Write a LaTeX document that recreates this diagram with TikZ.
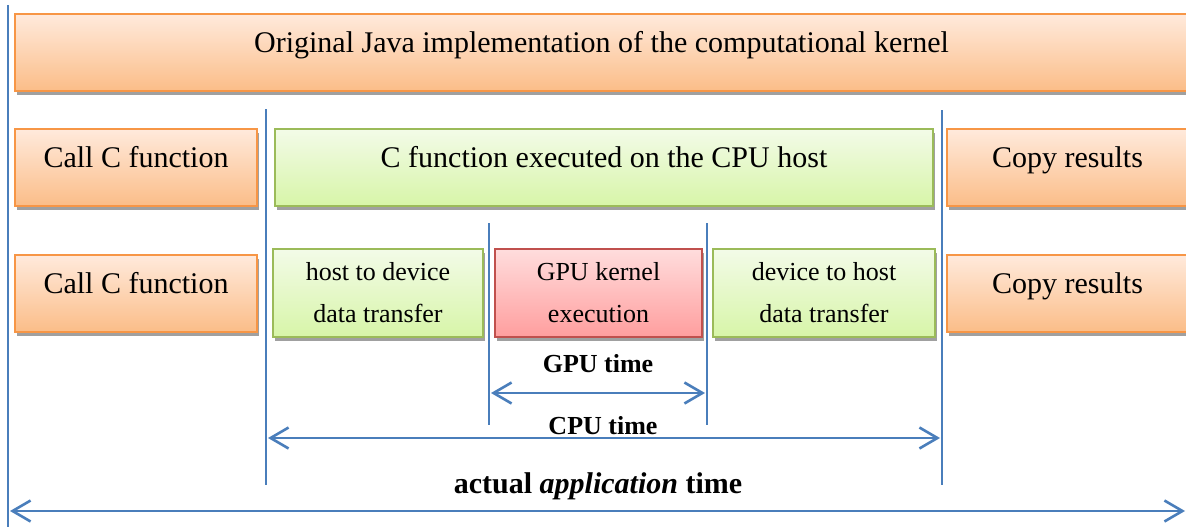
\documentclass[tikz,border=0pt]{standalone}
\usepackage{fontspec}
\setmainfont{Liberation Serif}
\usetikzlibrary{arrows.meta,shadows}
\definecolor{lineblue}{HTML}{4A7EBB}
\definecolor{orangeedge}{HTML}{F79646}
\definecolor{orangetop}{HTML}{FFEADC}
\definecolor{orangebot}{HTML}{FBBD88}
\definecolor{greenedge}{HTML}{9BBB59}
\definecolor{greentop}{HTML}{F3FBE8}
\definecolor{greenbot}{HTML}{D7F5A8}
\definecolor{rededge}{HTML}{C0504D}
\definecolor{redtop}{HTML}{FFDDDD}
\definecolor{redbot}{HTML}{FF9E9E}
\definecolor{shadowgray}{HTML}{A0A0A0}

\begin{document}
\begin{tikzpicture}[x=1pt, y=-1pt,
  box/.style={draw, line width=2.2pt, inner sep=0pt,
    drop shadow={shadow xshift=1.5pt, shadow yshift=-4pt, fill=shadowgray, opacity=1}},
  orangebox/.style={box, draw=orangeedge, top color=orangetop, bottom color=orangebot,
    minimum height=77pt, font=\fontsize{30}{36}\selectfont, text height=20pt, text depth=20pt},
  greenbox/.style={box, draw=greenedge, top color=greentop, bottom color=greenbot},
  redbox/.style={box, draw=rededge, top color=redtop, bottom color=redbot},
  smalltext/.style={minimum height=88pt, align=center, font=\fontsize{26}{42}\selectfont},
  vline/.style={draw=lineblue, line width=2.4pt},
  timearrow/.style={draw=lineblue, line width=2.6pt,
    {Straight Barb[length=18pt, width=21pt]}-{Straight Barb[length=18pt, width=21pt]}},
  timelabel/.style={font=\fontsize{26}{30}\selectfont\bfseries}]
  \useasboundingbox (0,0) rectangle (1186,527);

  % top row
  \node[orangebox, minimum width=1173pt] (java) at (601.5,52.5)
    {Original Java implementation of the computational kernel};

  % CPU only row
  \node[orangebox, minimum width=242pt] (callA) at (136,167.5) {Call C function};
  \node[greenbox, minimum width=658pt, minimum height=77pt,
    font=\fontsize{30}{36}\selectfont, text height=20pt, text depth=20pt] (cpuhost) at (604,167.5)
    {C function executed on the CPU host};
  \node[orangebox, minimum width=241pt] (copyA) at (1067.5,167.5) {Copy results};

  % GPU row
  \node[orangebox, minimum width=242pt] (callB) at (136,293.5) {Call C function};
  \node[greenbox, smalltext, minimum width=210pt] (hosttodev) at (378,293)
    {host to device\\data transfer};
  \node[redbox, smalltext, minimum width=207pt] (gpukernel) at (598.5,293)
    {GPU kernel\\execution};
  \node[greenbox, smalltext, minimum width=222pt] (devtohost) at (824,293)
    {device to host\\data transfer};
  \node[orangebox, minimum width=241pt] (copyB) at (1067.5,293.5) {Copy results};

  % time markers
  \coordinate (appT) at (8,5);     \coordinate (appB) at (8,530);
  \coordinate (cpuLT) at (266,109); \coordinate (cpuLB) at (266,485);
  \coordinate (cpuRT) at (942,110); \coordinate (cpuRB) at (942,485);
  \coordinate (gpuLT) at (489,223); \coordinate (gpuLB) at (489,425);
  \coordinate (gpuRT) at (707,223); \coordinate (gpuRB) at (707,425);
  \draw[vline] (appT) -- (appB);
  \draw[vline] (cpuLT) -- (cpuLB);
  \draw[vline] (cpuRT) -- (cpuRB);
  \draw[vline] (gpuLT) -- (gpuLB);
  \draw[vline] (gpuRT) -- (gpuRB);

  % spans
  \coordinate (gpuA) at (491,393);  \coordinate (gpuZ) at (705,393);
  \coordinate (cpuA) at (268,438);  \coordinate (cpuZ) at (940,438);
  \coordinate (appA) at (10,511);   \coordinate (appZ) at (1185,511);
  \draw[timearrow] (gpuA) -- (gpuZ);
  \draw[timearrow] (cpuA) -- (cpuZ);
  \draw[timearrow] (appA) -- (appZ);
  \node[timelabel] (gputime) at (598,364) {GPU time};
  \node[timelabel] (cputime) at (603,426) {CPU time};
  \node[timelabel, font=\fontsize{30}{36}\selectfont\bfseries] (apptime) at (598,486)
    {actual \textit{application} time};
\end{tikzpicture}
\end{document}
